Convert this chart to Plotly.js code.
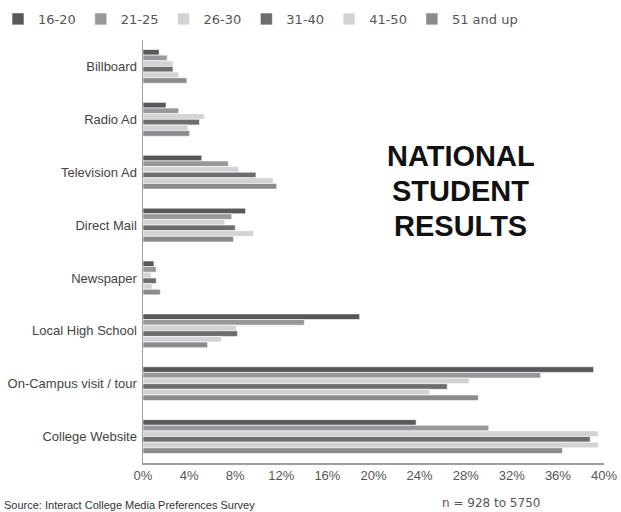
<!DOCTYPE html>
<html>
<head>
<meta charset="utf-8">
<script src="https://cdn.plot.ly/plotly-3.0.1.min.js"></script>
<style>
html,body{margin:0;padding:0;background:#fff;}
#chart{width:621px;height:512px;}
</style>
</head>
<body>
<div id="chart"></div>
<script>
var categories = ["Billboard", "Radio Ad", "Television Ad", "Direct Mail", "Newspaper", "Local High School", "On-Campus visit / tour", "College Website"];
var seriesNames = ["16-20", "21-25", "26-30", "31-40", "41-50", "51 and up"];
var age16to20 = [1.4, 2.0, 5.1, 8.9, 0.95, 18.8, 39.1, 23.7];
var age21to25 = [2.1, 3.1, 7.4, 7.7, 1.15, 14.0, 34.5, 30.0];
var age26to30 = [2.6, 5.3, 8.3, 7.1, 0.7, 8.1, 28.3, 39.5];
var age31to40 = [2.6, 4.9, 9.8, 8.0, 1.15, 8.2, 26.4, 38.8];
var age41to50 = [3.1, 3.9, 11.3, 9.6, 0.8, 6.8, 24.9, 39.5];
var age51up = [3.8, 4.05, 11.6, 7.85, 1.5, 5.6, 29.1, 36.4];
var seriesValues = [age16to20, age21to25, age26to30, age31to40, age41to50, age51up];
var titleLines = ["NATIONAL", "STUDENT", "RESULTS"];
var sourceText = "Source: Interact College Media Preferences Survey";
var sampleText = "n = 928 to 5750";
var colors = ["#58585a", "#98989a", "#d3d3d5", "#6d6d6f", "#d3d3d5", "#8b8b8d"];

var traces = seriesNames.map(function(name, i){
  return {
    type: "bar", orientation: "h", name: name,
    x: seriesValues[i], y: categories,
    marker: {color: colors[i], line: {color: "#ffffff", width: 0.6}},
    hoverinfo: "skip"
  };
});

var annotations = titleLines.map(function(t, i){
  return {text: "<b>" + t + "</b>", xref: "paper", yref: "paper",
    x: (460.5 - 143) / 461, y: 1 - (156 + i * 35 - 40) / 423,
    xanchor: "center", yanchor: "middle", showarrow: false,
    font: {family: "Liberation Sans, Arial, sans-serif", size: 29, color: "#111"}};
});
annotations.push(
  {text: sourceText, xref: "paper", yref: "paper",
   x: -0.306, y: -0.099, xanchor: "left", yanchor: "middle", showarrow: false,
   font: {family: "Liberation Sans, Arial, sans-serif", size: 11, color: "#333"}},
  {text: sampleText, xref: "paper", yref: "paper", x: 0.755, y: -0.095,
   xanchor: "center", yanchor: "middle", showarrow: false,
   font: {family: "DejaVu Sans, Verdana, sans-serif", size: 12, color: "#555"}}
);

var layout = {
  width: 621, height: 512,
  margin: {l: 143, r: 17, t: 40, b: 49, autoexpand: false},
  paper_bgcolor: "#ffffff", plot_bgcolor: "#ffffff",
  barmode: "group", bargap: 0.36, bargroupgap: 0,
  font: {family: "Liberation Sans, Arial, sans-serif", color: "#333"},
  xaxis: {
    range: [0, 40], dtick: 4, ticksuffix: "%", showgrid: false, zeroline: false,
    showline: true, linecolor: "#a0a0a0", linewidth: 1.5, ticks: "",
    tickfont: {family: "Liberation Sans, Arial, sans-serif", size: 13, color: "#555"},
    fixedrange: true
  },
  yaxis: {
    autorange: false, range: [7.5, -0.5], showgrid: false, zeroline: false,
    showline: true, linecolor: "#a0a0a0", linewidth: 1.5, ticks: "",
    ticklabelstandoff: 2,
    tickfont: {family: "Liberation Sans, Arial, sans-serif", size: 13, color: "#444"},
    fixedrange: true
  },
  showlegend: true,
  legend: {
    orientation: "h", xref: "paper", yref: "paper",
    x: (-2 - 143) / 461, xanchor: "left", y: 1 + 21 / 423, yanchor: "middle",
    traceorder: "normal",
    font: {family: "DejaVu Sans, Verdana, sans-serif", size: 13, color: "#555"},
    bgcolor: "rgba(0,0,0,0)"
  },
  annotations: annotations
};

Plotly.newPlot("chart", traces, layout, {displayModeBar: false, staticPlot: true});
</script>
</body>
</html>
